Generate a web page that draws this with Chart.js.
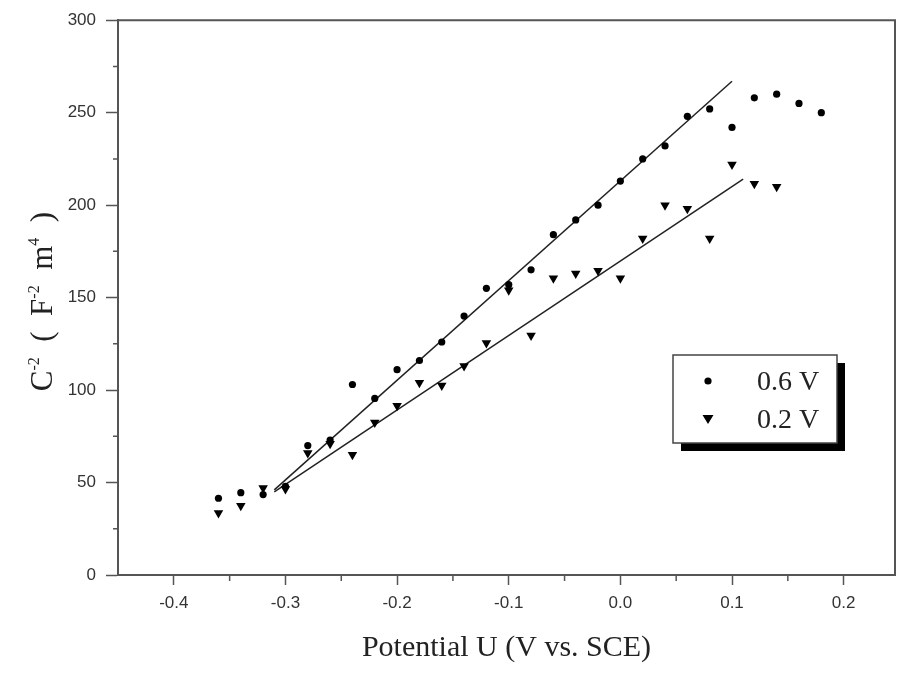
<!DOCTYPE html>
<html>
<head>
<meta charset="utf-8">
<script src="https://cdn.jsdelivr.net/npm/chart.js@4.4.0/dist/chart.umd.min.js"></script>
<style>
  html, body { margin: 0; padding: 0; background: #fff; }
</style>
</head>
<body>
<canvas id="chartCanvas" width="897" height="674"></canvas>
<script>
// data
const potential06 = [-0.36, -0.34, -0.32, -0.30, -0.28, -0.26, -0.24, -0.22, -0.20, -0.18, -0.16, -0.14, -0.12, -0.10,
  -0.08, -0.06, -0.04, -0.02, 0.00, 0.02, 0.04, 0.06, 0.08, 0.10, 0.12, 0.14, 0.16, 0.18];
const values06 = [41.5, 44.5, 43.5, 48, 70, 73, 103, 95.5, 111, 116, 126, 140, 155, 157,
  165, 184, 192, 200, 213, 225, 232, 248, 252, 242, 258, 260, 255, 250];

const potential02 = [-0.36, -0.34, -0.32, -0.30, -0.28, -0.26, -0.24, -0.22, -0.20, -0.18, -0.16, -0.14, -0.12, -0.10,
  -0.08, -0.06, -0.04, -0.02, 0.00, 0.02, 0.04, 0.06, 0.08, 0.10, 0.12, 0.14];
const values02 = [33.5, 37.5, 47, 46.5, 66, 71, 65, 82.5, 91.5, 104, 102.5, 113, 125.5, 154,
  129.5, 160.5, 163, 164.5, 160.5, 182, 200, 198, 182, 222, 211.5, 210];

// linear fit lines (end points)
const fitX06 = [-0.31, 0.10];
const fitY06 = [46, 267];
const fitX02 = [-0.31, 0.11];
const fitY02 = [45, 214];

const seriesLabels = ['0.6 V', '0.2 V'];
const xTicks = [-0.4, -0.3, -0.2, -0.1, 0.0, 0.1, 0.2];
const xMinor = [-0.35, -0.25, -0.15, -0.05, 0.05, 0.15];
const yTicks = [0, 50, 100, 150, 200, 250, 300];
const yMinor = [25, 75, 125, 175, 225, 275];
const xTitle = 'Potential U (V vs. SCE)';

const axisColor = '#555';
const serif = "'Liberation Serif', 'Times New Roman', serif";
const sans = "'Liberation Sans', Arial, sans-serif";

const pts = (xs, ys) => xs.map((x, i) => ({ x: x, y: ys[i] }));

function drawMarker(ctx, style, x, y) {
  ctx.beginPath();
  if (style === 'circle') {
    ctx.arc(x, y, 3.6, 0, Math.PI * 2);
  } else {
    ctx.moveTo(x - 5.5, y - 4);
    ctx.lineTo(x + 5.5, y - 4);
    ctx.lineTo(x, y + 5);
    ctx.closePath();
  }
  ctx.fill();
}

const extras = {
  id: 'extras',
  afterDraw(chart) {
    const ctx = chart.ctx;
    const a = chart.chartArea;
    const xs = chart.scales.x, ys = chart.scales.y;
    ctx.save();

    // top and right frame
    ctx.strokeStyle = axisColor;
    ctx.lineWidth = 2;
    ctx.beginPath();
    ctx.moveTo(a.left, a.top);
    ctx.lineTo(a.right, a.top);
    ctx.lineTo(a.right, a.bottom);
    ctx.stroke();

    // minor ticks
    ctx.lineWidth = 1.5;
    ctx.beginPath();
    yMinor.forEach(v => {
      const p = ys.getPixelForValue(v);
      ctx.moveTo(a.left, p);
      ctx.lineTo(a.left - 5, p);
    });
    xMinor.forEach(v => {
      const p = xs.getPixelForValue(v);
      ctx.moveTo(p, a.bottom);
      ctx.lineTo(p, a.bottom + 6);
    });
    ctx.stroke();

    // y title with superscripts
    const parts = [['C', 0], ['-2', 1], ['  (  F', 0], ['-2', 1], ['  m', 0], ['4', 1], ['  )', 0]];
    const big = '31px ' + serif, small = '16px ' + serif;
    let total = 0;
    parts.forEach(p => { ctx.font = p[1] ? small : big; total += ctx.measureText(p[0]).width; });
    ctx.translate(41, (a.top + a.bottom) / 2 + 4);
    ctx.rotate(-Math.PI / 2);
    ctx.fillStyle = '#222';
    ctx.textBaseline = 'alphabetic';
    ctx.textAlign = 'left';
    let cx = -total / 2;
    parts.forEach(p => {
      ctx.font = p[1] ? small : big;
      ctx.fillText(p[0], cx, p[1] ? -2 : 11);
      cx += ctx.measureText(p[0]).width;
    });
    ctx.setTransform(1, 0, 0, 1, 0, 0);

    // legend box with shadow
    const bx = 673, by = 355, bw = 164, bh = 88;
    ctx.fillStyle = '#000';
    ctx.fillRect(bx + 8, by + 8, bw, bh);
    ctx.fillStyle = '#fff';
    ctx.fillRect(bx, by, bw, bh);
    ctx.strokeStyle = '#444';
    ctx.lineWidth = 1.5;
    ctx.strokeRect(bx, by, bw, bh);
    ctx.fillStyle = '#000';
    drawMarker(ctx, 'circle', 708, 381);
    drawMarker(ctx, 'triangle', 708, 419);
    ctx.fillStyle = '#222';
    ctx.font = '28px ' + serif;
    ctx.textBaseline = 'middle';
    ctx.fillText(seriesLabels[0], 757, 383);
    ctx.fillText(seriesLabels[1], 757, 421);

    ctx.restore();
  }
};

const ctx = document.getElementById('chartCanvas').getContext('2d');
new Chart(ctx, {
  type: 'scatter',
  data: {
    datasets: [
      {
        label: seriesLabels[0],
        data: pts(potential06, values06),
        pointStyle: 'circle',
        pointRadius: 3.6,
        backgroundColor: '#000',
        borderColor: '#000',
        borderWidth: 0
      },
      {
        label: seriesLabels[1],
        data: pts(potential02, values02),
        pointStyle: 'triangle',
        rotation: 180,
        pointRadius: 5.5,
        backgroundColor: '#000',
        borderColor: '#000',
        borderWidth: 0
      },
      {
        label: 'fit 0.6 V',
        type: 'line',
        data: pts(fitX06, fitY06),
        showLine: true,
        pointRadius: 0,
        borderColor: '#222',
        borderWidth: 1.5
      },
      {
        label: 'fit 0.2 V',
        type: 'line',
        data: pts(fitX02, fitY02),
        showLine: true,
        pointRadius: 0,
        borderColor: '#222',
        borderWidth: 1.5
      }
    ]
  },
  options: {
    responsive: false,
    animation: false,
    layout: { autoPadding: false, padding: { left: 0, top: 19, right: 2, bottom: 0 } },
    plugins: {
      legend: { display: false },
      tooltip: { enabled: false }
    },
    scales: {
      x: {
        type: 'linear',
        min: -0.45,
        max: 0.246,
        afterBuildTicks: s => { s.ticks = xTicks.map(v => ({ value: v })); },
        afterFit: s => { s.height = 99; s.paddingRight = 0; },
        ticks: {
          callback: v => v.toFixed(1),
          color: '#333',
          font: { family: sans, size: 17 },
          padding: 8
        },
        grid: { drawOnChartArea: false, tickLength: 10, tickColor: axisColor, tickWidth: 1.5 },
        border: { color: axisColor, width: 2 },
        title: {
          display: true,
          text: xTitle,
          color: '#222',
          font: { family: serif, size: 30 },
          padding: { top: 4, bottom: 8 }
        }
      },
      y: {
        min: 0,
        max: 300,
        afterBuildTicks: s => { s.ticks = yTicks.map(v => ({ value: v })); },
        afterFit: s => { s.width = 118; },
        ticks: {
          color: '#333',
          font: { family: sans, size: 17 },
          padding: 10
        },
        grid: { drawOnChartArea: false, tickLength: 12, tickColor: axisColor, tickWidth: 1.5 },
        border: { color: axisColor, width: 2 }
      }
    }
  },
  plugins: [extras]
});
</script>
</body>
</html>
